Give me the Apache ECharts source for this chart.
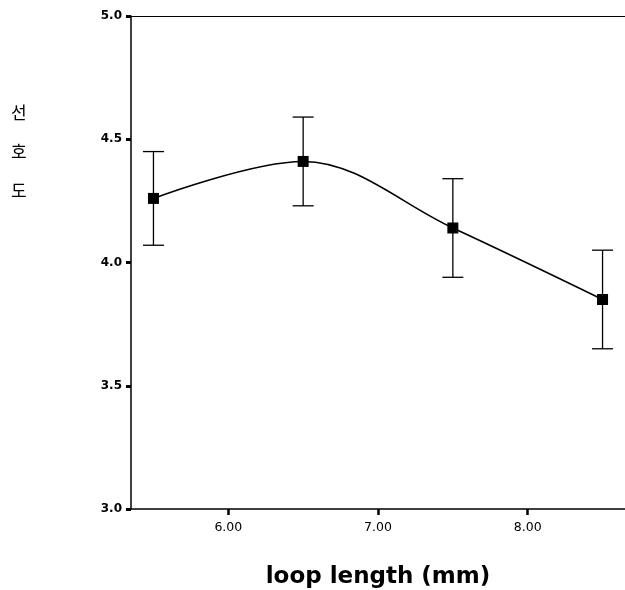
<!DOCTYPE html>
<html>
<head>
<meta charset="utf-8">
<script src="https://cdn.jsdelivr.net/npm/echarts@6/dist/echarts.min.js"></script>
<style>
  html, body { margin: 0; padding: 0; background: #fff; }
  #main { width: 625px; height: 590px; }
</style>
</head>
<body>
<div id="main"></div>
<script>
// loop length (mm) vs 선호도 means, with error bar ends
var loopLength = [5.5, 6.5, 7.5, 8.5];
var meanScore = [4.26, 4.41, 4.14, 3.85];
var errLow = [4.07, 4.23, 3.94, 3.65];
var errHigh = [4.45, 4.59, 4.34, 4.05];
var xTicks = [6, 7, 8];

var chart = echarts.init(document.getElementById('main'));

var lineData = loopLength.map(function (x, i) { return [x, meanScore[i]]; });
var errData = loopLength.map(function (x, i) { return [x, errLow[i], errHigh[i]]; });

var option = {
  animation: false,
  backgroundColor: '#fff',
  grid: { left: 131, top: 16, right: 0, bottom: 81, outerBoundsMode: 'none', containLabel: false },
  xAxis: [{
    type: 'value',
    min: 5.35,
    max: 8.65,
    name: 'loop length (mm)',
    nameLocation: 'middle',
    nameGap: 57,
    nameTextStyle: { fontFamily: 'DejaVu Sans', fontWeight: 'bold', fontSize: 23, color: '#000' },
    axisLine: { lineStyle: { color: '#000', width: 1.5 } },
    axisTick: { customValues: xTicks, length: 6, lineStyle: { color: '#000', width: 2.5 } },
    axisLabel: {
      customValues: xTicks, margin: 12, color: '#000', fontSize: 12.5,
      fontFamily: 'DejaVu Sans',
      formatter: function (v) { return v.toFixed(2); }
    },
    splitLine: { show: false }
  }, {
    type: 'value',
    position: 'top',
    min: 5.35,
    max: 8.65,
    axisLine: { show: true, lineStyle: { color: '#000', width: 1.2 } },
    axisTick: { show: false },
    axisLabel: { show: false },
    splitLine: { show: false }
  }],
  yAxis: {
    type: 'value',
    min: 3,
    max: 5,
    interval: 0.5,
    axisLine: { show: true, lineStyle: { color: '#000', width: 1.5 } },
    axisTick: { show: true, length: 5, lineStyle: { color: '#000', width: 3 } },
    axisLabel: {
      margin: 9, color: '#000', fontSize: 12, fontWeight: 'bold',
      fontFamily: 'DejaVu Sans',
      formatter: function (v) { return v.toFixed(1); }
    },
    splitLine: { show: false }
  },
  graphic: [{
    type: 'text',
    left: 11,
    top: 93,
    style: {
      text: '선\n호\n도',
      fontFamily: 'Noto Sans CJK KR',
      fontSize: 17,
      lineHeight: 39,
      fill: '#000'
    }
  }],
  series: [{
    type: 'custom',
    data: errData,
    z: 1,
    renderItem: function (params, api) {
      var top = api.coord([api.value(0), api.value(2)]);
      var bot = api.coord([api.value(0), api.value(1)]);
      var half = 10.5;
      var st = { stroke: '#000', lineWidth: 1.3 };
      return {
        type: 'group',
        children: [
          { type: 'line', shape: { x1: top[0], y1: top[1], x2: bot[0], y2: bot[1] }, style: st },
          { type: 'line', shape: { x1: top[0] - half, y1: top[1], x2: top[0] + half, y2: top[1] }, style: st },
          { type: 'line', shape: { x1: bot[0] - half, y1: bot[1], x2: bot[0] + half, y2: bot[1] }, style: st }
        ]
      };
    }
  }, {
    type: 'line',
    data: lineData,
    smooth: 0.35,
    z: 3,
    symbol: 'rect',
    symbolSize: 11,
    itemStyle: { color: '#000' },
    lineStyle: { color: '#000', width: 1.6 }
  }]
};

chart.setOption(option);
</script>
</body>
</html>
